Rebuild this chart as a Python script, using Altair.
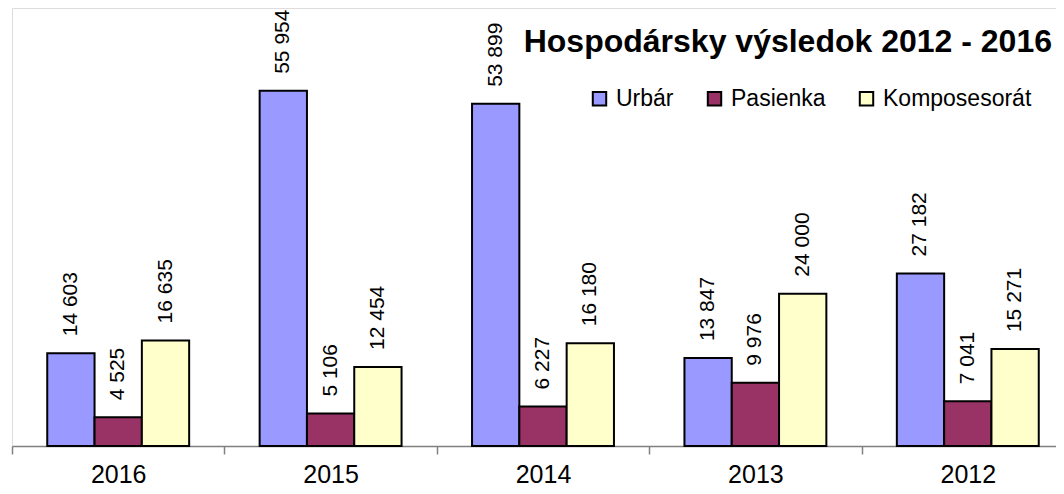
import altair as alt
import pandas as pd

years = ["2016", "2015", "2014", "2013", "2012"]
series = ["Urbár", "Pasienka", "Komposesorát"]
urbar = [14603, 55954, 53899, 13847, 27182]
pasienka = [4525, 5106, 6227, 9976, 7041]
komposesorat = [16635, 12454, 16180, 24000, 15271]
colors = ["#9999FF", "#993366", "#FFFFCC"]
title_text = "Hospodársky výsledok 2012 - 2016"

rows = []
for name, vals in zip(series, [urbar, pasienka, komposesorat]):
    for y, v in zip(years, vals):
        rows.append({"rok": y, "serie": name, "hodnota": v,
                     "popis": f"{v:,}".replace(",", " ")})
df = pd.DataFrame(rows)

FONT = "Liberation Sans"

x_enc = alt.X("rok:N", sort=years,
              scale=alt.Scale(range=[0, 1062], paddingInner=0, paddingOuter=0),
              axis=alt.Axis(title=None, labelFontSize=25, labelFont=FONT,
                            labelColor="black", labelAngle=0,
                            labelBaseline="alphabetic", labelPadding=28,
                            domainColor="#808080", domainWidth=1.5,
                            tickColor="#808080", tickWidth=1.5, tickSize=8,
                            tickBand="extent"))
xo_enc = alt.XOffset("serie:N", sort=series,
                     scale=alt.Scale(paddingOuter=0.745, paddingInner=0))
y_enc = alt.Y("hodnota:Q", scale=alt.Scale(domain=[0, 69000]), axis=None)

base = alt.Chart(df)

bars = base.mark_bar(stroke="black", strokeWidth=2).encode(
    x=x_enc, xOffset=xo_enc, y=y_enc,
    color=alt.Color("serie:N", sort=series,
                    scale=alt.Scale(domain=series, range=colors),
                    legend=alt.Legend(title=None, orient="none",
                                      legendX=576, legendY=79,
                                      direction="horizontal",
                                      symbolType="square", symbolSize=180,
                                      symbolStrokeColor="black",
                                      symbolStrokeWidth=2,
                                      symbolOpacity=1,
                                      labelFontSize=23, labelFont=FONT,
                                      labelColor="black", labelOffset=5,
                                      columnPadding=29, padding=0)),
)

labels = base.mark_text(angle=270, align="left", baseline="middle", dx=17,
                        fontSize=21, font=FONT, color="black").encode(
    x=x_enc, xOffset=xo_enc, y=y_enc, text="popis:N"
)

title = alt.Chart(pd.DataFrame({"t": [title_text]})).mark_text(
    align="right", baseline="alphabetic", fontSize=32, fontWeight="bold",
    font=FONT, color="black"
).encode(text="t:N", x=alt.value(1040), y=alt.value(44))

chart = alt.layer(bars, labels, title).properties(
    width=1044, height=438,
    autosize=alt.AutoSizeParams(type="none"),
    padding={"left": 4, "top": 0, "right": 0, "bottom": 40},
).configure_view(strokeWidth=0).configure(font=FONT)

chart.save("out.html", embed_options={"renderer": "svg", "actions": False})
